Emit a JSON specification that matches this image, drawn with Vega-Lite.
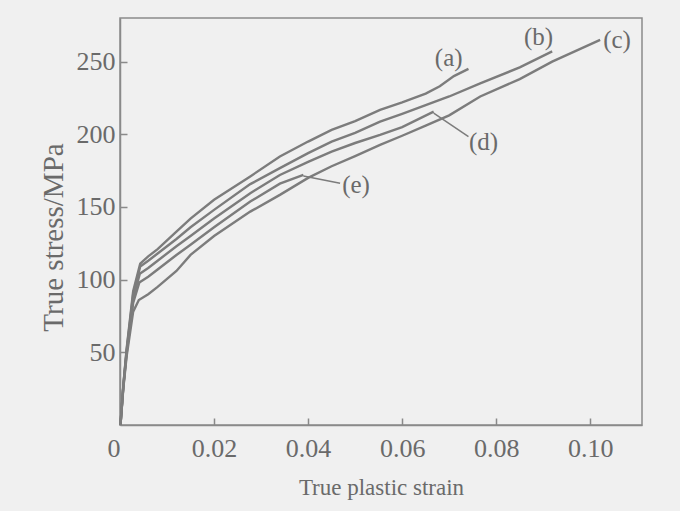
{
  "$schema": "https://vega.github.io/schema/vega-lite/v6.json",
  "width": 522,
  "height": 407,
  "autosize": "none",
  "padding": {"left": 120, "top": 18, "right": 38, "bottom": 86},
  "background": "#f0f0f0",
  "config": {"view": {"stroke": "#8a8a8a", "strokeWidth": 1.5}, "font": "Liberation Serif"},
  "datasets": {
    "curves": [
      {"curve": "a", "strain": 0.0001, "stress": 0}, {"curve": "a", "strain": 0.0007, "stress": 27}, {"curve": "a", "strain": 0.0014, "stress": 52}, {"curve": "a", "strain": 0.0028, "stress": 92}, {"curve": "a", "strain": 0.0043, "stress": 111}, {"curve": "a", "strain": 0.006, "stress": 116}, {"curve": "a", "strain": 0.008, "stress": 121}, {"curve": "a", "strain": 0.012, "stress": 133}, {"curve": "a", "strain": 0.015, "stress": 142}, {"curve": "a", "strain": 0.02, "stress": 155}, {"curve": "a", "strain": 0.0277, "stress": 171}, {"curve": "a", "strain": 0.034, "stress": 184.7}, {"curve": "a", "strain": 0.04, "stress": 195}, {"curve": "a", "strain": 0.045, "stress": 203}, {"curve": "a", "strain": 0.05, "stress": 209}, {"curve": "a", "strain": 0.0553, "stress": 216.8}, {"curve": "a", "strain": 0.06, "stress": 222}, {"curve": "a", "strain": 0.065, "stress": 228}, {"curve": "a", "strain": 0.068, "stress": 233}, {"curve": "a", "strain": 0.071, "stress": 240}, {"curve": "a", "strain": 0.0741, "stress": 245},
      {"curve": "b", "strain": 0.0001, "stress": 0}, {"curve": "b", "strain": 0.0007, "stress": 27}, {"curve": "b", "strain": 0.0014, "stress": 51}, {"curve": "b", "strain": 0.0028, "stress": 90}, {"curve": "b", "strain": 0.0043, "stress": 109}, {"curve": "b", "strain": 0.006, "stress": 113}, {"curve": "b", "strain": 0.008, "stress": 118}, {"curve": "b", "strain": 0.012, "stress": 128}, {"curve": "b", "strain": 0.015, "stress": 136}, {"curve": "b", "strain": 0.02, "stress": 148}, {"curve": "b", "strain": 0.0277, "stress": 165.7}, {"curve": "b", "strain": 0.034, "stress": 176.7}, {"curve": "b", "strain": 0.04, "stress": 187}, {"curve": "b", "strain": 0.045, "stress": 195}, {"curve": "b", "strain": 0.05, "stress": 201}, {"curve": "b", "strain": 0.0553, "stress": 208.7}, {"curve": "b", "strain": 0.06, "stress": 214}, {"curve": "b", "strain": 0.065, "stress": 220}, {"curve": "b", "strain": 0.07, "stress": 226}, {"curve": "b", "strain": 0.0766, "stress": 235}, {"curve": "b", "strain": 0.085, "stress": 246}, {"curve": "b", "strain": 0.0919, "stress": 257},
      {"curve": "d", "strain": 0.0001, "stress": 0}, {"curve": "d", "strain": 0.0007, "stress": 26}, {"curve": "d", "strain": 0.0014, "stress": 50}, {"curve": "d", "strain": 0.0028, "stress": 87}, {"curve": "d", "strain": 0.0042, "stress": 104}, {"curve": "d", "strain": 0.006, "stress": 108}, {"curve": "d", "strain": 0.008, "stress": 113}, {"curve": "d", "strain": 0.012, "stress": 123}, {"curve": "d", "strain": 0.015, "stress": 130}, {"curve": "d", "strain": 0.02, "stress": 142}, {"curve": "d", "strain": 0.0277, "stress": 159.5}, {"curve": "d", "strain": 0.034, "stress": 172}, {"curve": "d", "strain": 0.04, "stress": 181}, {"curve": "d", "strain": 0.045, "stress": 188}, {"curve": "d", "strain": 0.05, "stress": 194}, {"curve": "d", "strain": 0.0553, "stress": 199.6}, {"curve": "d", "strain": 0.06, "stress": 205}, {"curve": "d", "strain": 0.0667, "stress": 215.6},
      {"curve": "e", "strain": 0.0001, "stress": 0}, {"curve": "e", "strain": 0.0007, "stress": 26}, {"curve": "e", "strain": 0.0014, "stress": 49}, {"curve": "e", "strain": 0.0028, "stress": 84}, {"curve": "e", "strain": 0.0041, "stress": 98}, {"curve": "e", "strain": 0.006, "stress": 102}, {"curve": "e", "strain": 0.008, "stress": 107}, {"curve": "e", "strain": 0.012, "stress": 117}, {"curve": "e", "strain": 0.015, "stress": 124}, {"curve": "e", "strain": 0.02, "stress": 136}, {"curve": "e", "strain": 0.0277, "stress": 153.7}, {"curve": "e", "strain": 0.034, "stress": 166}, {"curve": "e", "strain": 0.039, "stress": 172},
      {"curve": "c", "strain": 0.0001, "stress": 0}, {"curve": "c", "strain": 0.0007, "stress": 25}, {"curve": "c", "strain": 0.0014, "stress": 47}, {"curve": "c", "strain": 0.0028, "stress": 78}, {"curve": "c", "strain": 0.004, "stress": 86}, {"curve": "c", "strain": 0.006, "stress": 90}, {"curve": "c", "strain": 0.008, "stress": 95}, {"curve": "c", "strain": 0.012, "stress": 106}, {"curve": "c", "strain": 0.015, "stress": 117}, {"curve": "c", "strain": 0.02, "stress": 130}, {"curve": "c", "strain": 0.0277, "stress": 146.8}, {"curve": "c", "strain": 0.034, "stress": 158.3}, {"curve": "c", "strain": 0.04, "stress": 170}, {"curve": "c", "strain": 0.045, "stress": 178}, {"curve": "c", "strain": 0.05, "stress": 185}, {"curve": "c", "strain": 0.0553, "stress": 192.7}, {"curve": "c", "strain": 0.06, "stress": 199}, {"curve": "c", "strain": 0.065, "stress": 206}, {"curve": "c", "strain": 0.07, "stress": 213}, {"curve": "c", "strain": 0.0766, "stress": 226}, {"curve": "c", "strain": 0.085, "stress": 238}, {"curve": "c", "strain": 0.0919, "stress": 250}, {"curve": "c", "strain": 0.1021, "stress": 265}
    ],
    "labels": [
      {"label": "(a)", "strain": 0.0699, "stress": 252.3},
      {"label": "(b)", "strain": 0.089, "stress": 267},
      {"label": "(c)", "strain": 0.1057, "stress": 265},
      {"label": "(d)", "strain": 0.0773, "stress": 195},
      {"label": "(e)", "strain": 0.0502, "stress": 165}
    ],
    "leaders": [
      {"strain": 0.0667, "stress": 214.5, "strain2": 0.0741, "stress2": 198.4},
      {"strain": 0.039, "stress": 171.3, "strain2": 0.0468, "stress2": 166.3}
    ]
  },
  "layer": [
    {
      "data": {"name": "curves"},
      "mark": {"type": "line", "color": "#7c7c7c", "strokeWidth": 2.4},
      "encoding": {
        "x": {
          "field": "strain", "type": "quantitative",
          "scale": {"domain": [0, 0.111], "nice": false, "zero": false},
          "axis": {
            "title": "True plastic strain",
            "values": [0, 0.02, 0.04, 0.06, 0.08, 0.1],
            "labelExpr": "datum.value == 0 ? '0' : format(datum.value, '.2f')",
            "labelAlign": {"condition": {"test": "datum.value == 0", "value": "right"}, "value": "center"},
            "labelFont": "Liberation Serif", "labelFontSize": 26, "labelColor": "#6a6a6a",
            "titleFont": "Liberation Serif", "titleFontSize": 23, "titleFontWeight": "normal", "titleColor": "#6a6a6a",
            "titlePadding": 15,
            "tickSize": -7, "tickColor": "#8a8a8a", "tickWidth": 1.5,
            "labelPadding": 17,
            "domainColor": "#8a8a8a", "domainWidth": 1.5, "grid": false
          }
        },
        "y": {
          "field": "stress", "type": "quantitative",
          "scale": {"domain": [0, 280], "nice": false},
          "axis": {
            "title": "True stress/MPa",
            "values": [50, 100, 150, 200, 250],
            "labelFont": "Liberation Serif", "labelFontSize": 26, "labelColor": "#6a6a6a",
            "titleFont": "Liberation Serif", "titleFontSize": 29, "titleFontWeight": "normal", "titleColor": "#6a6a6a",
            "titlePadding": 8,
            "titleY": 219,
            "tickSize": -7, "tickColor": "#8a8a8a", "tickWidth": 1.5,
            "labelPadding": 12,
            "domainColor": "#8a8a8a", "domainWidth": 1.5, "grid": false
          }
        },
        "detail": {"field": "curve", "type": "nominal"}
      }
    },
    {
      "data": {"name": "leaders"},
      "mark": {"type": "rule", "color": "#7c7c7c", "strokeWidth": 1.5},
      "encoding": {
        "x": {"field": "strain", "type": "quantitative"},
        "y": {"field": "stress", "type": "quantitative"},
        "x2": {"field": "strain2"},
        "y2": {"field": "stress2"}
      }
    },
    {
      "data": {"name": "labels"},
      "mark": {"type": "text", "font": "Liberation Serif", "fontSize": 25, "color": "#6a6a6a", "baseline": "middle", "align": "center"},
      "encoding": {
        "x": {"field": "strain", "type": "quantitative"},
        "y": {"field": "stress", "type": "quantitative"},
        "text": {"field": "label"}
      }
    }
  ]
}
